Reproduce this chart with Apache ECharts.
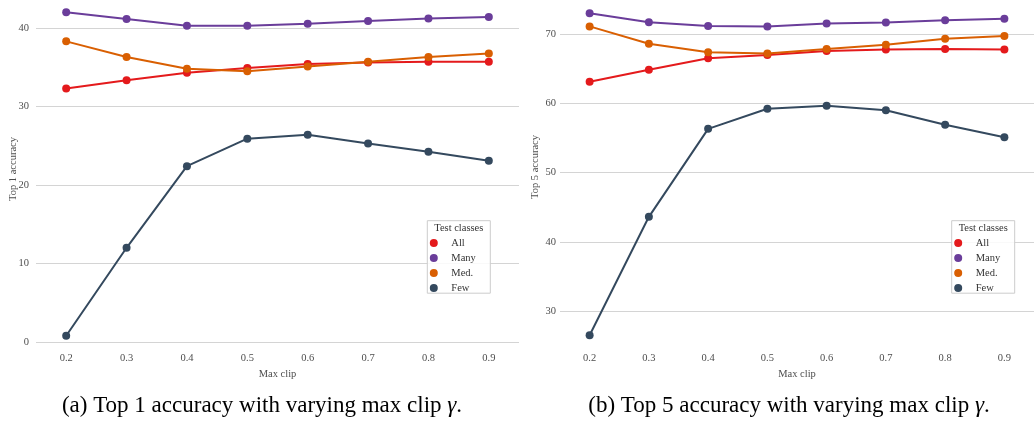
<!DOCTYPE html>
<html>
<head>
<meta charset="utf-8">
<script src="https://cdn.jsdelivr.net/npm/echarts@6/dist/echarts.min.js"></script>
<style>
  html, body { margin: 0; padding: 0; background: #fff; }
  #chart { width: 1034px; height: 425px; }
</style>
</head>
<body>
<div id="chart"></div>
<script>
// Max clip values on the x axis
const maxClip = ['0.2', '0.3', '0.4', '0.5', '0.6', '0.7', '0.8', '0.9'];
const classNames = ['All', 'Many', 'Med.', 'Few'];

// Top 1 accuracy per test-class group
const top1All  = [32.3, 33.35, 34.3, 34.9, 35.4, 35.6, 35.7, 35.7];
const top1Many = [42.0, 41.15, 40.3, 40.3, 40.55, 40.9, 41.2, 41.4];
const top1Med  = [38.3, 36.3, 34.8, 34.5, 35.1, 35.7, 36.3, 36.75];
const top1Few  = [0.8, 12.0, 22.4, 25.9, 26.4, 25.3, 24.25, 23.1];

// Top 5 accuracy per test-class group
const top5All  = [63.1, 64.85, 66.5, 66.95, 67.55, 67.75, 67.85, 67.75];
const top5Many = [73.0, 71.7, 71.15, 71.1, 71.5, 71.65, 72.0, 72.2];
const top5Med  = [71.1, 68.6, 67.35, 67.2, 67.85, 68.45, 69.3, 69.7];
const top5Few  = [26.5, 43.6, 56.3, 59.2, 59.65, 59.0, 56.9, 55.1];

const colors = ['#e41a1c', '#6a3d9a', '#d95f02', '#34495e'];
const serif = '"Liberation Serif", "DejaVu Serif", serif';
const tickColor = '#4d4d4d';

function lineSeries(name, data, idx, color) {
  return {
    type: 'line', name: name, data: data,
    xAxisIndex: idx, yAxisIndex: idx,
    symbol: 'circle', symbolSize: 8, showAllSymbol: true,
    clip: false,
    itemStyle: { color: color },
    lineStyle: { color: color, width: 2 },
    emphasis: { disabled: true },
    animation: false
  };
}

function xAxis(idx, labelMargin, nameGap) {
  return {
    type: 'category', gridIndex: idx, data: maxClip, boundaryGap: true,
    name: 'Max clip', nameLocation: 'middle', nameGap: nameGap,
    nameTextStyle: { fontFamily: serif, fontSize: 10.5, color: tickColor },
    axisLine: { show: false }, axisTick: { show: false },
    axisLabel: { margin: labelMargin, fontFamily: serif, fontSize: 10.5, color: tickColor },
    splitLine: { show: false }
  };
}

function yAxis(idx, min, max, labelMargin) {
  return {
    type: 'value', gridIndex: idx, min: min, max: max, interval: 10,
    axisLine: { show: false }, axisTick: { show: false },
    axisLabel: { margin: labelMargin, fontFamily: serif, fontSize: 10.5, color: tickColor },
    splitLine: { show: true, lineStyle: { color: '#d4d4d4', width: 1 } }
  };
}

function legend(left, top) {
  return {
    data: classNames, orient: 'vertical', left: left, top: top,
    padding: 0, itemGap: 4, itemWidth: 25, itemHeight: 8, icon: 'circle',
    selectedMode: false, z: 6,
    textStyle: { fontFamily: serif, fontSize: 10.5, lineHeight: 10, color: '#333' }
  };
}

function legendBox(x, y) {
  return [
    { type: 'rect', z: 5, shape: { x: x, y: y, width: 63, height: 72.5 },
      style: { fill: 'rgba(255,255,255,0.85)', stroke: '#cccccc', lineWidth: 1 } },
    { type: 'text', z: 6, x: x + 31.5, y: y + 8,
      style: { text: 'Test classes', font: '10.5px ' + serif, fill: '#333',
               align: 'center', verticalAlign: 'middle' } }
  ];
}

function yName(text, x, y) {
  return { type: 'text', x: x, y: y, rotation: Math.PI / 2,
    style: { text: text, font: '10.5px ' + serif, fill: tickColor,
             align: 'center', verticalAlign: 'middle' } };
}

function caption(label, text, cx) {
  return { type: 'text', x: cx, y: 417,
    style: {
      text: '{n|' + label + ' ' + text + ' }{g|γ}{n|.}',
      align: 'center', verticalAlign: 'bottom',
      rich: {
        n: { fontFamily: serif, fontSize: 23, color: '#111' },
        g: { fontFamily: serif, fontSize: 23, fontStyle: 'italic', color: '#111' }
      }
    } };
}

const chart = echarts.init(document.getElementById('chart'), null, { renderer: 'canvas' });

chart.setOption({
  backgroundColor: '#ffffff',
  animation: false,
  grid: [
    { left: 36, top: 28, width: 483, height: 314 },
    { left: 560, top: 34, width: 483, height: 277 }
  ],
  xAxis: [xAxis(0, 11, 26), xAxis(1, 42, 56)],
  yAxis: [yAxis(0, 0, 40, 7), yAxis(1, 30, 70, 4)],
  legend: [legend(429.8, 237.5), legend(954.2, 237.5)],
  series: [
    lineSeries('All',  top1All,  0, colors[0]),
    lineSeries('Many', top1Many, 0, colors[1]),
    lineSeries('Med.', top1Med,  0, colors[2]),
    lineSeries('Few',  top1Few,  0, colors[3]),
    lineSeries('All',  top5All,  1, colors[0]),
    lineSeries('Many', top5Many, 1, colors[1]),
    lineSeries('Med.', top5Med,  1, colors[2]),
    lineSeries('Few',  top5Few,  1, colors[3])
  ],
  graphic: [
    ...legendBox(427.3, 220.7),
    ...legendBox(951.7, 220.7),
    yName('Top 1 accuracy', 13, 169),
    yName('Top 5 accuracy', 535, 167),
    caption('(a)', 'Top 1 accuracy with varying max clip', 262),
    caption('(b)', 'Top 5 accuracy with varying max clip', 789)
  ]
});
</script>
</body>
</html>
